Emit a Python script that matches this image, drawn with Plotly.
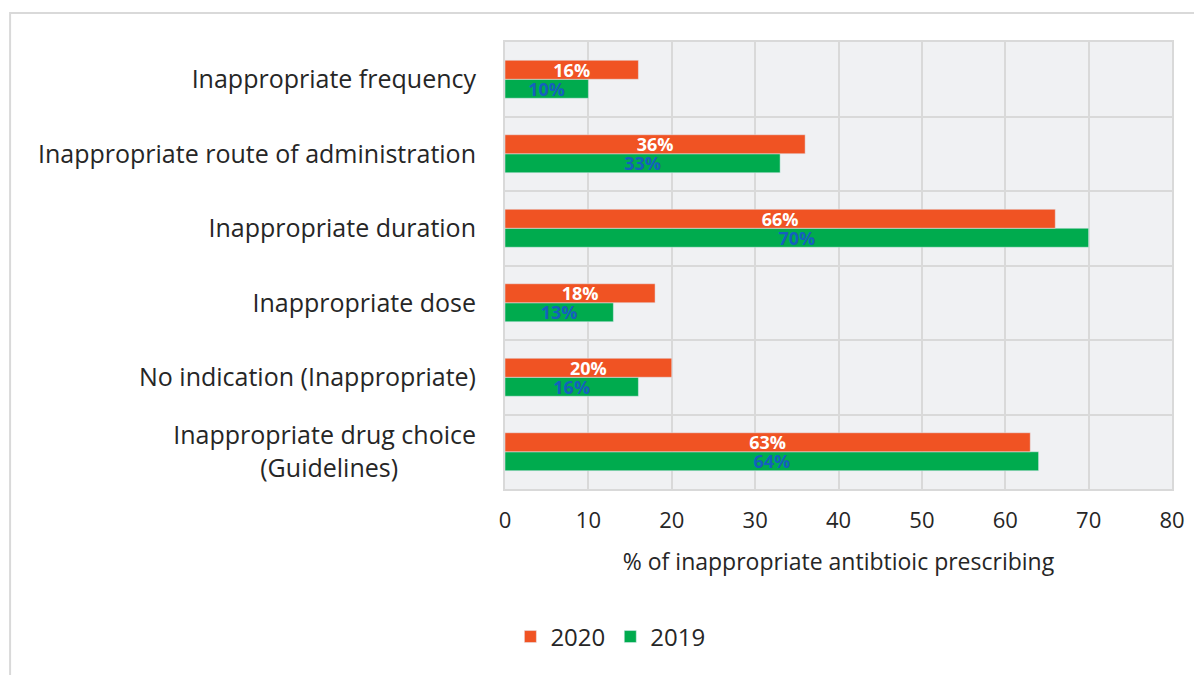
import plotly.graph_objects as go

categories = [
    "Inappropriate drug choice<br>(Guidelines)" + "\u00a0" * 12,
    "No indication (Inappropriate)",
    "Inappropriate dose",
    "Inappropriate duration",
    "Inappropriate route of administration",
    "Inappropriate frequency",
]
values_2020 = [63, 20, 18, 66, 36, 16]
values_2019 = [64, 16, 13, 70, 33, 10]
x_ticks = [0, 10, 20, 30, 40, 50, 60, 70, 80]

FONT = "Open Sans"
fig = go.Figure()
fig.add_trace(go.Bar(
    y=categories, x=values_2019, name="2019", orientation="h",
    marker=dict(color="#00ab4e"),
    text=[f"{v}%" for v in values_2019], textposition="inside",
    insidetextanchor="middle", textangle=0, constraintext="none",
    textfont=dict(family=FONT, size=18, color="#1560bd", weight="bold"),
    legendrank=2,
))
fig.add_trace(go.Bar(
    y=categories, x=values_2020, name="2020", orientation="h",
    marker=dict(color="#f05323"),
    text=[f"{v}%" for v in values_2020], textposition="inside",
    insidetextanchor="middle", textangle=0, constraintext="none",
    textfont=dict(family=FONT, size=18, color="white", weight="bold"),
    legendrank=1,
))

fig.update_layout(
    width=1202, height=675,
    barmode="group", bargap=0.49, bargroupgap=0,
    plot_bgcolor="#f0f1f3", paper_bgcolor="white",
    margin=dict(l=497, r=38, t=34, b=194),
    font=dict(family=FONT, color="#262626"),
    showlegend=True,
    legend=dict(orientation="h", x=0.158, xanchor="center", y=-0.331, yanchor="middle",
                font=dict(size=24, family=FONT), traceorder="normal"),
    uniformtext=dict(mode=False),
)
fig.update_xaxes(
    range=[0, 80], tickvals=x_ticks, ticktext=[str(t) for t in x_ticks],
    showgrid=True, gridcolor="#d9d9d9", gridwidth=2,
    zeroline=False, showline=True, linecolor="#d9d9d9", linewidth=2, mirror=True,
    tickfont=dict(size=22, family=FONT), ticks="", ticklabelstandoff=11,
    title=dict(text="% of inappropriate antibtioic prescribing", font=dict(size=23, family=FONT), standoff=20),
)
fig.update_yaxes(
    type="category", tickson="boundaries",
    showgrid=True, gridcolor="#d9d9d9", gridwidth=2,
    showline=True, linecolor="#d9d9d9", linewidth=2, mirror=True,
    tickfont=dict(size=25, family=FONT), ticks="", ticklabelstandoff=22,
)

fig.add_shape(type="rect", xref="paper", yref="paper",
              x0=-0.742, x1=1.06, y0=-0.43, y1=1.065,
              line=dict(color="#d9d9d9", width=2), fillcolor="rgba(0,0,0,0)", layer="below")

fig.write_html("out.html")
